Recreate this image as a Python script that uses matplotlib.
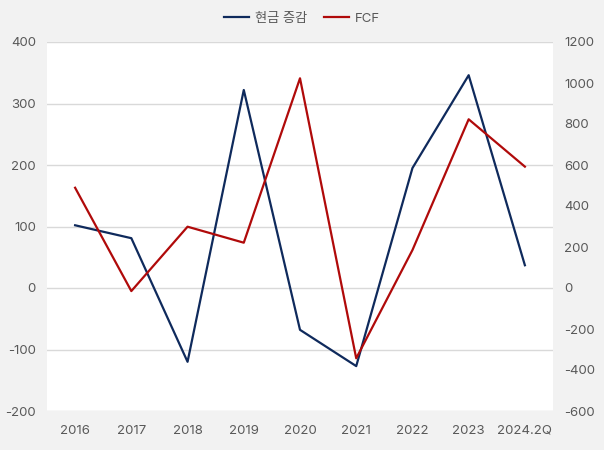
import matplotlib
matplotlib.use("Agg")
import matplotlib.pyplot as plt

plt.rcParams['font.family'] = ['Inter', 'Noto Sans CJK KR', 'DejaVu Sans']
plt.rcParams['axes.unicode_minus'] = False

categories = ["2016", "2017", "2018", "2019", "2020", "2021", "2022", "2023", "2024.2Q"]
cash_change = [102, 81, -120, 322, -68, -127, 195, 346, 37]
fcf = [489, -15, 299, 221, 1023, -343, 185, 823, 592]

navy = '#0f2a5c'
red = '#b00a0a'
bg = '#f2f2f2'
tc = '#595959'

fig = plt.figure(figsize=(6.04, 4.5), dpi=100, facecolor=bg)
ax = fig.add_axes([47/604, 1 - 411/450, (553-47)/604, (411-42)/450])
ax.set_facecolor('white')
x = list(range(len(categories)))
l1, = ax.plot(x, cash_change, color=navy, lw=1.6, label='현금 증감')
ax.set_ylim(-200, 400)
ax.set_yticks(range(-200, 401, 100))
ax.set_xlim(-0.5, len(categories) - 0.5)
ax.set_xticks(x)
ax.set_xticklabels(categories)
ax.grid(axis='y', color='#d9d9d9', lw=1)
ax.set_axisbelow(True)
for s in ax.spines.values():
    s.set_visible(False)
ax.tick_params(length=0, colors=tc, labelsize=9.5)
ax.tick_params(axis='y', pad=8)
ax.tick_params(axis='x', pad=10)

ax2 = ax.twinx()
l2, = ax2.plot(x, fcf, color=red, lw=1.6, label='FCF')
ax2.set_ylim(-600, 1200)
ax2.set_yticks(range(-600, 1201, 200))
for s in ax2.spines.values():
    s.set_visible(False)
ax2.tick_params(length=0, colors=tc, labelsize=9.5, pad=8)

fig.legend(handles=[l1, l2], loc='center', bbox_to_anchor=(0.5, 1 - 19/450), ncol=2,
           frameon=False, fontsize=9.5, handlelength=1.9, columnspacing=1.3,
           handletextpad=0.4, labelcolor=tc)

fig.savefig('out.png', dpi=100, facecolor=bg)
